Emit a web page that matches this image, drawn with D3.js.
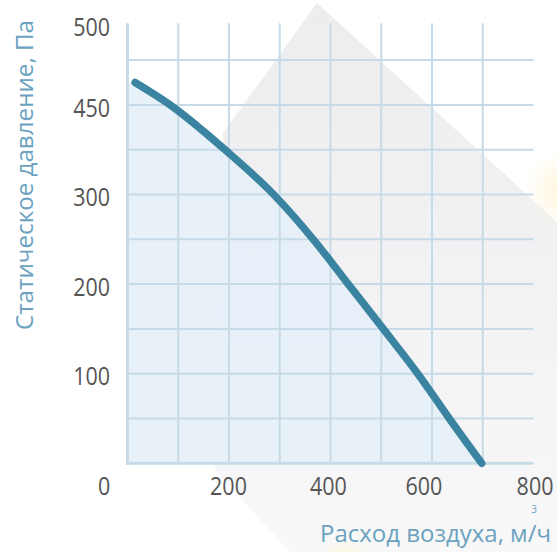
<!DOCTYPE html>
<html><head><meta charset="utf-8">
<script src="https://cdn.jsdelivr.net/npm/d3@7/dist/d3.min.js"></script>
<style>html,body{margin:0;padding:0;background:#fff;}svg{display:block;}</style>
</head><body>
<svg id="c" width="557" height="552"></svg>
<script>
// ---- data ----
const flow = [15, 84, 192, 288, 366, 435, 504, 572, 634, 698];      // м3/ч
const pressure = [425, 400, 350, 300, 250, 200, 150, 100, 50, 0];   // Па
const xTickLabels = ["0", "200", "400", "600", "800"];
const xTickPos = [-46, 199, 396, 584, 803];
const yTickLabels = ["100", "200", "300", "450", "500"];
const yTickPos = [98, 197, 297, 396, 487];
const xGrid = [100, 200, 300, 400, 500, 600, 700];
const yGrid = [50, 100, 150, 200, 250, 300, 350, 400, 450];
const yAxisTitle = "Статическое давление, Па";
const xAxisTitle = "Расход воздуха, м/ч";

const svg = d3.select("#c");
const x = d3.scaleLinear().domain([0, 800]).range([127.5, 533.5]);
const y = d3.scaleLinear().domain([0, 500]).range([463.3, 15.3]);
const gridTop = 491;
const font = "'Open Sans','Noto Sans',sans-serif";

// ---- decorative background ----
const defs = svg.append("defs");
const lg = defs.append("linearGradient").attr("id", "bg").attr("x1", 0.5).attr("y1", 0).attr("x2", 0.5).attr("y2", 1);
lg.append("stop").attr("offset", 0).attr("stop-color", "#ededf0");
lg.append("stop").attr("offset", 0.5).attr("stop-color", "#f2f2f4");
lg.append("stop").attr("offset", 1).attr("stop-color", "#f8f8f9");
svg.append("path").attr("d", "M317,3 L557,222 L557,552 L290,552 L215,470 L223,133 Z").attr("fill", "url(#bg)");
const rg = defs.append("radialGradient").attr("id", "glow");
rg.append("stop").attr("offset", 0).attr("stop-color", "#fff3d2").attr("stop-opacity", 0.9);
rg.append("stop").attr("offset", 1).attr("stop-color", "#fff3d2").attr("stop-opacity", 0);
svg.append("circle").attr("cx", 565).attr("cy", 190).attr("r", 40).attr("fill", "url(#glow)");
svg.append("circle").attr("cx", 345).attr("cy", 565).attr("r", 28).attr("fill", "url(#glow)");

// ---- area fill ----
const pts = flow.map((f, i) => ({x: f, y: pressure[i]}));
const areaPts = [{x: 0, y: pressure[0]}].concat(pts);
svg.append("path").datum(areaPts)
  .attr("fill", "#e6eff7").attr("fill-opacity", 0.92)
  .attr("d", d3.area().x(d => x(d.x)).y0(y(0)).y1(d => y(d.y)).curve(d3.curveMonotoneX));

// ---- grid ----
const gridColor = "#c6dbe7";
svg.append("g").selectAll("line").data(yGrid).join("line")
  .attr("x1", x(0)).attr("x2", x(800)).attr("y1", d => y(d)).attr("y2", d => y(d))
  .attr("stroke", gridColor).attr("stroke-width", 2);
svg.append("g").selectAll("line").data(xGrid).join("line")
  .attr("x1", d => x(d)).attr("x2", d => x(d)).attr("y1", y(0)).attr("y2", y(gridTop))
  .attr("stroke", gridColor).attr("stroke-width", 2);
svg.append("line").attr("x1", x(0)).attr("x2", x(0)).attr("y1", y(gridTop)).attr("y2", y(0) + 1.5)
  .attr("stroke", gridColor).attr("stroke-width", 3);
svg.append("line").attr("x1", x(0) - 1.5).attr("x2", x(800)).attr("y1", y(0)).attr("y2", y(0))
  .attr("stroke", gridColor).attr("stroke-width", 3);

// ---- curve ----
svg.append("path").datum(pts)
  .attr("fill", "none").attr("stroke", "#3a84a1").attr("stroke-width", 7.5)
  .attr("stroke-linecap", "round").attr("stroke-linejoin", "round")
  .attr("d", d3.line().x(d => x(d.x)).y(d => y(d.y)).curve(d3.curveMonotoneX));

// ---- tick labels ----
svg.append("g").selectAll("text").data(yTickLabels).join("text")
  .attr("transform", (d, i) => `translate(110,${y(yTickPos[i])}) scale(0.86,1)`)
  .attr("dy", "0.36em")
  .attr("text-anchor", "end").attr("font-family", font).attr("font-size", 25)
  .attr("fill", "#555").text(d => d);
svg.append("g").selectAll("text").data(xTickLabels).join("text")
  .attr("transform", (d, i) => `translate(${x(xTickPos[i])},495) scale(0.86,1)`)
  .attr("text-anchor", "middle").attr("font-family", font).attr("font-size", 25)
  .attr("fill", "#555").text(d => d);

// ---- axis titles ----
svg.append("text").attr("transform", "translate(33,175) rotate(-90)")
  .attr("text-anchor", "middle").attr("font-family", font).attr("font-size", 24)
  .attr("fill", "#6aa2bf").attr("textLength", 310).attr("lengthAdjust", "spacingAndGlyphs")
  .text(yAxisTitle);
svg.append("text").attr("x", 320).attr("y", 542)
  .attr("font-family", font).attr("font-size", 24)
  .attr("fill", "#6aa2bf").attr("textLength", 231).attr("lengthAdjust", "spacingAndGlyphs")
  .text(xAxisTitle);
svg.append("text").attr("x", 534).attr("y", 513).attr("text-anchor", "middle")
  .attr("font-family", font).attr("font-size", 10).attr("fill", "#6aa2bf").text("3");
</script>
</body></html>
